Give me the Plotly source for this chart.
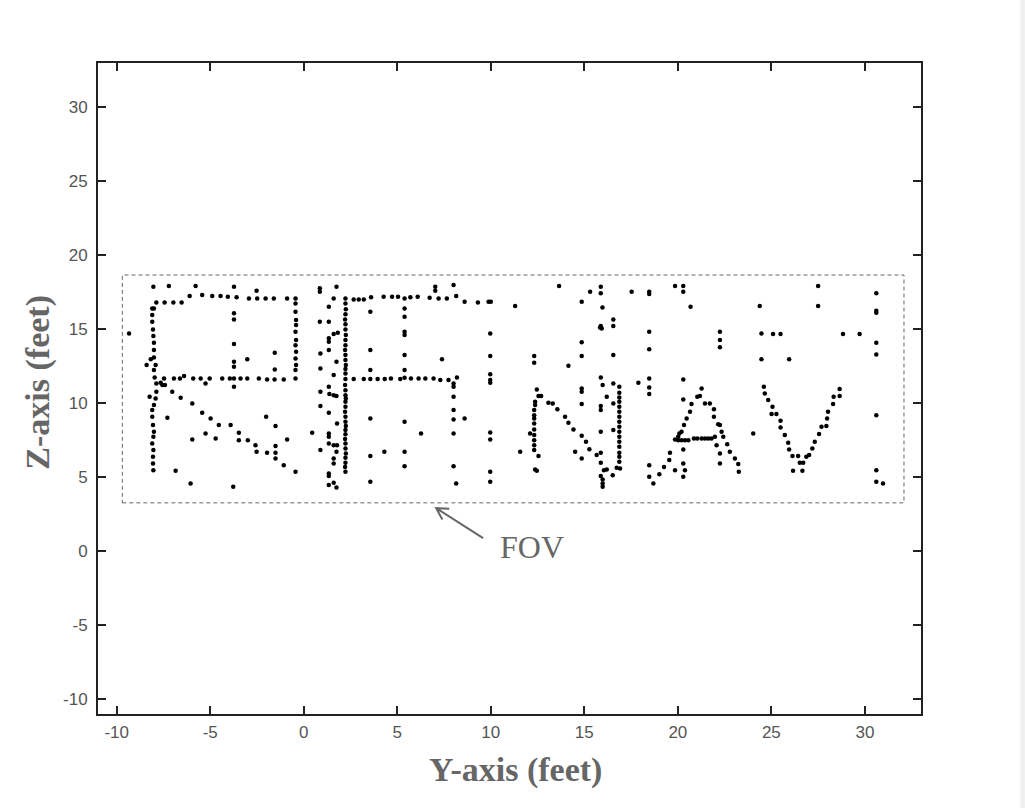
import plotly.graph_objects as go

# ---- data: Y (horizontal, feet) and Z (vertical, feet) of detected points ----
# region "R"
r_y = [-8.04, -7.21, -5.78, -3.73, -2.52,
       -6.10, -5.43, -4.89, -4.45, -4.06, -3.59, -2.93, -2.49, -2.04, -1.60, -0.89, -0.44,
       -7.88, -7.44, -6.97, -6.53,
       -8.10, -8.01, -8.10, -8.10, -8.06, -8.04, -8.01, -8.01, -8.01, -8.18, -7.92, -8.01, -7.97, -7.88,
       -7.88, -7.92, -8.01, -8.10, -8.10, -8.06, -8.01, -8.04, -8.10, -8.04, -8.06, -8.06, -8.04,
       -9.34, -8.40, -8.24,
       -0.44, -0.44, -0.41, -0.41, -0.44, -0.41, -0.44, -0.41, -0.44, -0.41, -0.44, -0.44,
       -7.47, -6.94, -6.62, -6.40, -5.91, -5.51, -5.03, -4.36, -3.95, -3.73, -3.38, -3.02, -2.40, -1.96,
       -1.56, -1.07,
       -3.73, -3.73, -3.73, -3.02, -3.73, -3.73, -1.55, -1.55, -5.25, -3.73,
       -7.65, -7.56, -7.42, -7.03, -6.58, -5.96, -5.43, -4.98, -4.54, -3.91, -3.47, -3.47, -2.99, -2.58,
       -2.52, -1.96, -1.51, -1.51, -1.51, -1.07, -0.44,
       -7.29, -5.96, -5.25, -4.71, -2.01, -1.51, -0.89, -6.85, -6.05, -3.77]
r_z = [17.88, 17.92, 17.92, 17.88, 17.61,
       17.25, 17.32, 17.25, 17.25, 17.20, 17.16, 17.09, 17.09, 17.09, 17.09, 17.09, 17.09,
       16.82, 16.82, 16.82, 16.82,
       16.41, 16.41, 15.96, 15.51, 14.99, 14.54, 14.09, 13.60, 13.10, 12.97, 12.58, 12.25, 11.75, 11.34,
       10.78, 10.33, 9.88, 9.54, 9.09, 8.53, 8.07, 7.74, 7.29, 6.84, 6.38, 5.93, 5.48,
       14.72, 12.58, 10.44,
       16.75, 16.19, 15.63, 15.29, 14.84, 14.27, 13.93, 13.48, 13.03, 12.58, 12.25, 11.68,
       11.68, 11.68, 11.68, 11.84, 11.68, 11.68, 11.68, 11.68, 11.68, 11.68, 11.68, 11.68, 11.68, 11.61,
       11.61, 11.61,
       16.08, 15.67, 14.00, 12.97, 12.81, 12.47, 13.42, 12.29, 11.34, 11.12,
       11.39, 11.23, 11.23, 10.78, 10.37, 9.99, 9.36, 8.98, 8.53, 8.53, 8.01, 7.51, 7.51, 7.17,
       6.72, 6.66, 7.11, 6.66, 6.27, 5.82, 5.37,
       9.02, 7.56, 7.96, 7.62, 9.09, 8.46, 7.56, 5.44, 4.58, 4.36]

# region "F"
f_y = [0.86, 0.86, 1.75, 7.03, 7.03, 8.01,
       1.60, 2.23, 2.67, 2.94, 3.21, 3.60, 4.27, 4.72, 5.04, 5.39, 5.70, 6.09, 6.73, 7.21, 7.65, 8.15,
       8.60, 9.31, 9.88, 10.00,
       2.23, 2.25, 2.23, 2.21, 2.23, 2.23, 2.25, 2.23, 2.23, 2.21, 2.23, 2.23, 2.25, 2.23, 2.23, 2.23,
       2.21, 2.23, 2.23, 2.25, 2.23, 2.23, 2.21, 2.23, 2.23, 2.25, 2.23, 2.23, 2.21, 2.23, 2.23, 2.25,
       2.23, 2.23, 2.21, 2.23,
       2.67, 3.21, 3.56, 3.95, 4.33, 4.66, 5.16, 5.39, 5.73, 6.14, 6.50, 6.94, 7.30, 7.74, 8.19,
       8.01, 8.01, 8.01, 8.01, 8.01, 8.01, 8.01, 8.15,
       0.86, 0.89, 0.89, 0.89, 0.89, 0.89, 0.45,
       1.34, 1.34, 1.34, 1.60, 1.82, 1.34, 1.34, 1.75, 1.60, 1.34, 1.37, 1.60, 1.75, 1.34, 1.78, 1.34,
       1.34, 1.34, 1.60, 1.78, 1.75, 1.60, 1.60, 1.34, 1.34, 1.34, 1.60, 1.75,
       3.56, 3.56, 3.56, 3.56, 3.56, 3.56, 4.31,
       5.39, 5.39, 5.39, 5.39, 5.39, 5.39, 5.39, 5.39, 5.39,
       6.27, 7.39, 8.60,
       9.97, 9.97, 9.97, 9.97, 9.97, 9.97, 9.97, 9.97, 9.97]
f_z = [17.77, 17.54, 17.88, 17.88, 17.61, 17.99,
       17.09, 17.09, 17.02, 17.02, 17.02, 17.16, 17.20, 17.20, 17.20, 17.09, 17.16, 17.20, 17.14, 17.09,
       17.09, 17.25, 16.87, 16.82, 16.87, 16.87,
       16.75, 16.35, 16.01, 15.67, 15.35, 14.99, 14.61, 14.27, 13.93, 13.60, 13.26, 12.92, 12.58, 12.31,
       12.02, 11.64, 11.23, 10.89, 10.55, 10.33, 10.10, 9.77, 9.43, 9.09, 8.75, 8.46, 8.19, 7.90, 7.58,
       7.29, 6.95, 6.61, 6.32, 5.98, 5.70, 5.37,
       11.64, 11.64, 11.64, 11.64, 11.64, 11.68, 11.64, 11.73, 11.68, 11.68, 11.68, 11.68, 11.57, 11.57,
       11.75,
       11.34, 11.12, 10.44, 9.54, 8.91, 7.96, 5.75, 4.58,
       15.51, 13.37, 12.36, 10.78, 9.81, 6.84, 8.01,
       16.53, 15.51, 14.39, 14.68, 14.77, 14.16, 13.60, 12.81, 11.91, 11.12, 10.62, 10.55, 10.49, 9.36,
       8.64, 7.96, 7.74, 7.29, 7.17, 7.17, 6.72, 6.27, 5.93, 5.26, 5.08, 4.47, 4.63, 4.31,
       16.19, 13.60, 12.25, 8.98, 6.43, 4.69, 6.72,
       16.41, 15.85, 14.84, 14.61, 13.26, 12.25, 8.75, 6.72, 5.75,
       7.96, 12.97, 8.98,
       14.72, 13.19, 11.97, 11.57, 11.39, 8.03, 7.56, 5.37, 4.69]

# region "N"
n_y = [11.30, 13.65, 15.31, 15.88, 15.88, 14.86, 15.97, 16.55, 16.55, 15.88, 15.93, 15.84, 14.86,
       14.86, 16.55, 12.32, 12.32, 14.15,
       12.46, 12.55, 12.69, 12.37, 12.37, 12.32, 12.32, 12.32, 12.32, 12.32, 12.32, 12.32, 12.32, 12.32,
       12.55, 12.37, 12.46, 12.10, 11.57,
       13.08, 13.31, 13.56, 13.97, 14.15, 14.42, 14.86, 15.09, 15.27, 15.66, 15.88, 16.05, 16.20,
       16.87, 16.87, 16.87, 16.87, 16.87, 16.87, 16.87, 16.87, 16.87, 16.87, 16.87, 16.87, 16.87,
       16.87, 16.87, 16.87, 16.73, 16.91,
       14.86, 14.86, 14.86, 15.88, 15.98, 16.20, 16.55, 16.55, 15.88, 15.88, 15.88, 16.55, 15.88,
       14.51, 14.86, 15.88, 15.98, 15.98, 15.98, 16.52]
n_z = [16.57, 17.92, 17.54, 17.88, 17.43, 16.87, 16.48, 15.67, 15.22, 15.22, 15.06, 15.13, 14.12,
       13.19, 13.26, 13.19, 12.74, 12.54,
       10.94, 10.49, 10.49, 10.10, 9.88, 9.54, 9.20, 8.98, 8.64, 8.23, 7.85, 7.51, 7.17, 6.84,
       6.43, 5.53, 5.44, 7.96, 6.72,
       10.04, 9.99, 9.59, 9.09, 8.68, 8.23, 7.80, 7.40, 6.90, 6.50, 5.98, 5.48, 5.53,
       11.12, 10.71, 10.40, 10.10, 9.77, 9.43, 9.09, 8.75, 8.41, 8.07, 7.74, 7.40, 7.06,
       6.66, 6.38, 6.05, 5.64, 5.60,
       11.00, 10.78, 9.95, 11.75, 11.23, 10.44, 11.34, 9.99, 9.81, 9.54, 8.07, 8.19, 6.66,
       6.72, 6.27, 5.08, 4.85, 4.58, 4.36, 5.14]

# region "A"
a_y = [17.53, 18.47, 18.47, 19.85, 20.29, 20.29, 20.68, 18.47, 18.47, 22.25, 22.25, 22.25, 17.89,
       18.47, 18.47, 18.47, 20.29, 20.29,
       21.27, 21.18, 21.04, 20.73, 20.65, 20.47, 20.33, 20.20, 20.08, 20.02, 19.58, 19.54, 19.26,
       19.01, 18.69, 18.47, 18.47,
       21.45, 21.71, 21.93, 21.93, 22.16, 22.25, 22.34, 22.43, 22.64, 22.78, 23.05, 23.23, 23.26,
       22.25, 22.25, 22.07,
       19.85, 20.02, 20.20, 20.38, 20.56, 20.86, 21.04, 21.27, 21.45, 21.63, 21.80, 21.98, 20.29,
       20.29, 19.85, 20.38, 20.29]
a_z = [17.54, 17.54, 17.38, 17.92, 17.92, 17.54, 16.53, 14.84, 13.66, 14.84, 14.27, 13.78, 11.39,
       11.68, 11.07, 10.62, 11.61, 10.26,
       11.00, 10.49, 10.44, 9.95, 9.43, 8.98, 8.53, 8.07, 7.96, 7.74, 6.66, 6.16, 5.70,
       5.21, 4.58, 5.03, 5.82,
       9.99, 9.99, 9.59, 9.09, 8.59, 8.53, 8.07, 7.74, 7.24, 6.72, 6.27, 5.89, 5.37,
       6.61, 5.93, 7.17,
       7.56, 7.51, 7.51, 7.51, 7.51, 7.62, 7.62, 7.62, 7.62, 7.62, 7.62, 7.74, 6.88,
       5.93, 5.48, 5.48, 5.03]

# region "V"
v_y = [27.50, 30.61, 24.38, 27.50, 30.61, 30.61, 24.47, 25.09, 25.49, 28.83, 29.72, 30.61, 30.61,
       24.47, 25.95, 24.03, 30.61, 30.61, 30.61, 30.97,
       24.60, 24.65, 24.83, 25.06, 25.01, 25.27, 25.49, 25.49, 25.72, 25.90, 25.95, 26.13, 26.43,
       26.52, 26.70, 26.16, 26.66,
       28.65, 28.33, 28.65, 28.30, 28.03, 27.98, 27.94, 27.68, 27.55, 27.32, 27.19, 27.02, 26.87]
v_z = [17.92, 17.43, 16.57, 16.57, 16.26, 16.12, 14.72, 14.68, 14.68, 14.68, 14.68, 14.09, 13.30,
       12.97, 12.97, 7.96, 9.20, 5.48, 4.69, 4.58,
       11.12, 10.67, 10.22, 9.77, 9.27, 9.27, 8.82, 8.37, 7.85, 7.33, 6.88, 6.43, 6.43,
       5.98, 5.98, 5.44, 5.44,
       10.96, 10.44, 10.49, 9.95, 9.43, 8.98, 8.46, 8.41, 7.92, 7.40, 6.95, 6.50, 6.38]

x_ticks = [-10, -5, 0, 5, 10, 15, 20, 25, 30]
y_ticks = [-10, -5, 0, 5, 10, 15, 20, 25, 30]

all_y = r_y + f_y + n_y + a_y + v_y
all_z = r_z + f_z + n_z + a_z + v_z

fig = go.Figure()
fig.add_trace(go.Scatter(
    x=all_y, y=all_z, mode="markers",
    marker=dict(color="black", size=4.5, symbol="circle"),
    showlegend=False, hoverinfo="skip"))

axis_common = dict(
    showgrid=False, zeroline=False, showline=True, linecolor="#222", linewidth=2,
    mirror="ticks", ticks="inside", ticklen=8, tickwidth=2, tickcolor="#222",
    tickfont=dict(family="Liberation Sans, Arial, sans-serif", size=17, color="#555"),
)
fig.update_xaxes(range=[-11, 33], tickvals=x_ticks, ticktext=[str(v) for v in x_ticks],
                 ticklabelstandoff=2, **axis_common)
fig.update_yaxes(range=[-11, 33], tickvals=y_ticks, ticktext=[str(v) for v in y_ticks],
                 ticklabelstandoff=5, **axis_common)

gray = "#666"
serif = "Liberation Serif, Times New Roman, serif"
fig.update_layout(
    width=1025, height=808,
    margin=dict(l=97.5, r=104.3, t=62.7, b=94),
    paper_bgcolor="white", plot_bgcolor="white",
    shapes=[
        dict(type="rect", xref="x", yref="y", x0=-9.70, x1=32.09, y0=3.27, y1=18.67,
             line=dict(color="#666", width=1, dash="4px,3px"), layer="below"),
        dict(type="path", xref="x", yref="y",
             path="M 9.59,0.89 L 7.08,2.91 M 7.78,2.87 L 7.08,2.91 L 7.41,2.14",
             line=dict(color=gray, width=2)),
        dict(type="rect", xref="paper", yref="paper", x0=1.1206, x1=1.14, y0=-0.2, y1=1.2,
             fillcolor="#f0f0f0", line=dict(width=0), layer="below"),
    ],
    annotations=[
        dict(text="FOV", x=12.18, y=0.28, xref="x", yref="y", showarrow=False,
             font=dict(family=serif, size=32, color=gray)),
        dict(text="<b>Y-axis (feet)</b>", x=0.5072, y=-0.086, xref="paper", yref="paper",
             showarrow=False, xanchor="center", yanchor="middle",
             font=dict(family=serif, size=34, color=gray)),
        dict(text="<b>Z-axis (feet)</b>", x=-0.0729, y=0.509, xref="paper", yref="paper",
             showarrow=False, xanchor="center", yanchor="middle", textangle=-90,
             font=dict(family=serif, size=34, color=gray)),
    ],
)

fig.write_html("out.html")
